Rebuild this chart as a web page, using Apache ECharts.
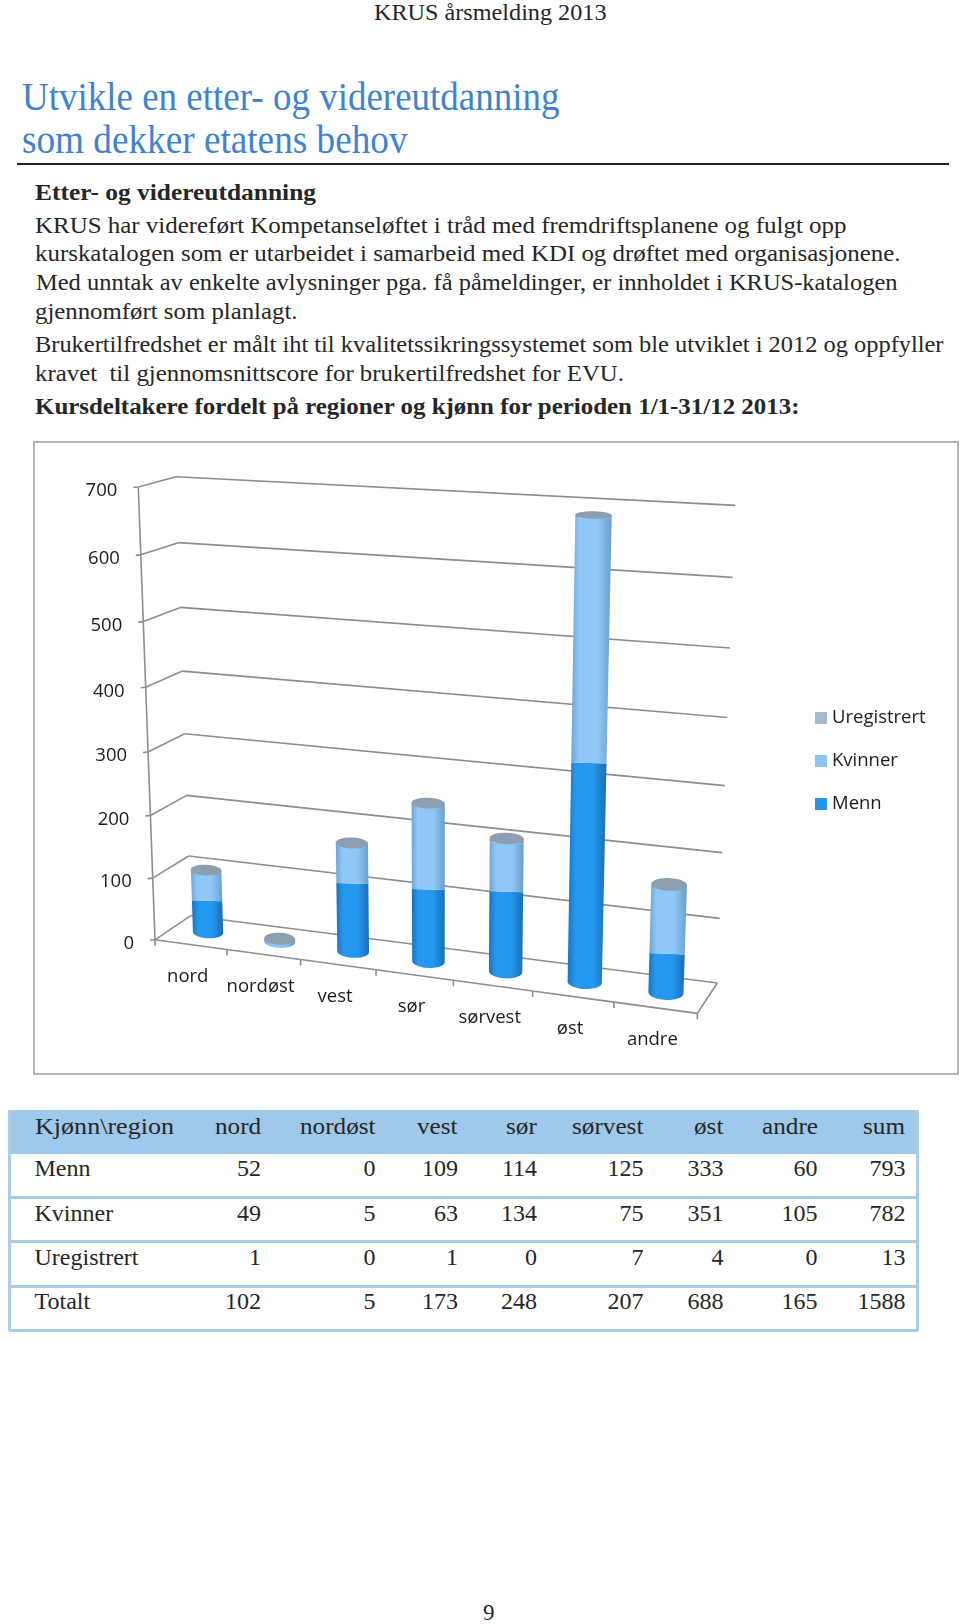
<!DOCTYPE html>
<html lang="no">
<head>
<meta charset="utf-8">
<title>KRUS årsmelding 2013</title>
<script src="https://cdn.jsdelivr.net/npm/echarts@6/dist/echarts.min.js"></script>
<style>
html,body{margin:0;padding:0;background:#fff;}
#page{position:relative;width:960px;height:1624px;overflow:hidden;background:#fff;font-family:"Liberation Serif",serif;color:#262626;}
.t{position:absolute;white-space:pre;line-height:1;transform-origin:0 0;}
#chart{position:absolute;left:34px;top:442px;width:924px;height:632px;}
#frame{position:absolute;left:33px;top:441px;width:922px;height:630px;border:2px solid #b4b4b4;}
#rule{position:absolute;left:17px;top:163px;width:932px;height:2px;background:#222;}
.band{position:absolute;left:9px;width:909px;background:#9fc9ea;}
.ln{position:absolute;left:9px;width:909px;height:2.5px;background:#a9cde8;}
.vl{position:absolute;top:1110px;height:221px;width:2.5px;background:#a9cde8;}
</style>
</head>
<body>
<div id="page">
  <div id="rule"></div>
  <div id="frame"></div>
  <div id="chart"></div>
</div>
<script>
// ---- data ----
const categories = ['nord','nordøst','vest','sør','sørvest','øst','andre'];
const menn        = [52,0,109,114,125,333,60];
const kvinner     = [49,5,63,134,75,351,105];
const uregistrert = [1,0,1,0,7,4,0];
const totalt      = [102,5,173,248,207,688,165];
const sumColumn   = [793,782,13,1588];
const yTicks      = [0,100,200,300,400,500,600,700];
const tableHeader = ['Kjønn\\region','nord','nordøst','vest','sør','sørvest','øst','andre','sum'];
const rowNames    = ['Menn','Kvinner','Uregistrert','Totalt'];

// ---- page text ----
const page = document.getElementById('page');
function addText(str, x, baseline, size, targetW, opt) {
  opt = opt || {};
  const s = document.createElement('span');
  s.className = 't';
  s.textContent = str;
  s.style.fontSize = size + 'px';
  if (opt.bold) s.style.fontWeight = 'bold';
  if (opt.color) s.style.color = opt.color;
  page.appendChild(s);
  const w = s.getBoundingClientRect().width;
  s.style.top = (baseline - size * 0.891) + 'px';
  if (opt.right) {
    const sx = opt.sx || 1;
    s.style.left = (x - w * sx) + 'px';
    if (sx !== 1) s.style.transform = 'scaleX(' + sx + ')';
  } else {
    s.style.left = x + 'px';
    if (targetW) s.style.transform = 'scaleX(' + (targetW / w) + ')';
  }
}
const blue = '#3f82d2';
addText('KRUS årsmelding 2013', 373.5, 21, 23, 232.5);
addText('Utvikle en etter- og videreutdanning', 21.5, 111.5, 39, 537.5, {color: blue});
addText('som dekker etatens behov', 21.5, 154.5, 39, 385.5, {color: blue});
addText('Etter- og videreutdanning', 34.5, 201, 24, 281, {bold: true});
addText('KRUS har videreført Kompetanseløftet i tråd med fremdriftsplanene og fulgt opp', 34.5, 234, 24, 811.5);
addText('kurskatalogen som er utarbeidet i samarbeid med KDI og drøftet med organisasjonene.', 34.5, 262.5, 24, 865.5);
addText('Med unntak av enkelte avlysninger pga. få påmeldinger, er innholdet i KRUS-katalogen', 35.5, 291.5, 24, 861.5);
addText('gjennomført som planlagt.', 34.5, 320.5, 24, 262.5);
addText('Brukertilfredshet er målt iht til kvalitetssikringssystemet som ble utviklet i 2012 og oppfyller', 34.5, 353, 24, 908.5);
addText('kravet  til gjennomsnittscore for brukertilfredshet for EVU.', 34.5, 382, 24, 589);
addText('Kursdeltakere fordelt på regioner og kjønn for perioden 1/1-31/12 2013:', 34.5, 415.5, 24, 764.5, {bold: true});
addText('9', 483, 1621, 23);

// ---- table ----
function addBox(cls, css) { const d = document.createElement('div'); d.className = cls; Object.assign(d.style, css); page.appendChild(d); }
addBox('band', {top: '1110px', height: '44px'});
[1196, 1240, 1285, 1329].forEach(y => addBox('ln', {top: y + 'px'}));
addBox('vl', {left: '8px'});
addBox('vl', {left: '916px'});
const colRight = [261, 375.5, 458, 537, 643.5, 723.5, 817.5, 905.5];
const rowBase  = [1177.5, 1222, 1266.5, 1310.5];
tableHeader.forEach((h, c) => {
  if (c === 0) addText(h, 34.5, 1135, 24, 139);
  else addText(h, colRight[c - 1], 1135, 24, null, {right: true, sx: 1.05});
});
[menn, kvinner, uregistrert, totalt].forEach((row, r) => {
  addText(rowNames[r], 34.5, rowBase[r], 24);
  row.forEach((v, c) => addText(String(v), colRight[c], rowBase[r], 24, null, {right: true}));
  addText(String(sumColumn[r]), colRight[7], rowBase[r], 24, null, {right: true});
});

// ---- perspective of the 3D chart: page positions of the box corners ----
const OX = 34, OY = 442;
const loc = p => [p[0] - OX, p[1] - OY];
const backQuad  = [[190.7,915.7],[717.3,983],[735.3,505.4],[176,476.8]].map(loc);
const frontQuad = [[155,939.8],[697.3,1013.4],[713.3,521.9],[138.3,487]].map(loc);
function homography(q) {
  const [p0,p1,p2,p3] = q;
  const dx1=p1[0]-p2[0], dx2=p3[0]-p2[0], sx=p0[0]-p1[0]+p2[0]-p3[0];
  const dy1=p1[1]-p2[1], dy2=p3[1]-p2[1], sy=p0[1]-p1[1]+p2[1]-p3[1];
  const den=dx1*dy2-dx2*dy1;
  const g=(sx*dy2-dx2*sy)/den, h=(dx1*sy-sx*dy1)/den;
  const a=p1[0]-p0[0]+g*p1[0], b=p3[0]-p0[0]+h*p3[0], c=p0[0];
  const d=p1[1]-p0[1]+g*p1[1], e=p3[1]-p0[1]+h*p3[1], f=p0[1];
  return (u,v)=>{const w=g*u+h*v+1;return [(a*u+b*v+c)/w,(d*u+e*v+f)/w];};
}
const backH = homography(backQuad), frontH = homography(frontQuad);
// u: 0..1 across, v: 0..1 up, d: 0 = front, 1 = back
function project(u, v, d) {
  const f = frontH(u, v), b = backH(u, v);
  return [f[0] + (b[0] - f[0]) * d, f[1] + (b[1] - f[1]) * d];
}
// flat pixel from the ECharts axes -> unit coordinates in the box
function unit(px, cs) { return [(px[0] - cs.x) / cs.width, (cs.y + cs.height - px[1]) / cs.height]; }

const RU = 0.0305, RD = 0.24, DC = 0.5, N = 28, TILT = 0.3;
// a level disc of the cylinder: screen ellipse at height v, almost horizontal
function disc(u, v) {
  const c = project(u, v, DC), r = project(u + RU, v, DC), l = project(u - RU, v, DC);
  const f = project(u, v, DC - RD), b = project(u, v, DC + RD);
  return {cx: c[0], cy: c[1], rx: (r[0] - l[0]) / 2, ry: Math.abs(f[1] - b[1]) / 2, t: (r[1] - l[1]) / 2 * TILT};
}
function discPt(e, th) { return [e.cx + e.rx * Math.cos(th), e.cy + e.ry * Math.sin(th) + e.t * Math.cos(th)]; }
function arcPts(u, v, from, to) {
  const e = disc(u, v), out = [];
  for (let k = 0; k <= N; k++) out.push(discPt(e, from + (to - from) * k / N));
  return out;
}
function shade(edge, mid, edge2) {
  return new echarts.graphic.LinearGradient(0, 0, 1, 0, [
    {offset: 0, color: edge}, {offset: 0.2, color: mid}, {offset: 0.65, color: mid}, {offset: 1, color: edge2}
  ]);
}
const fills = {
  Menn: () => shade('#1b72bf', '#2498ee', '#1a6fb8'),
  Kvinner: () => shade('#6ea6d6', '#8fc8f6', '#6a9fcd'),
  Uregistrert: () => shade('#7f97ad', '#a5bbce', '#7c93a8')
};
const capColor = '#8b9fb1';

function cylinder(name, withCap) {
  return function (params, api) {
    const cs = params.coordSys;
    const i = api.value(0), base = api.value(1), val = api.value(2);
    const p0 = unit(api.coord([i, base]), cs), p1 = unit(api.coord([i, base + val]), cs);
    const u = p0[0], v0 = p0[1], v1 = p1[1];
    const children = [];
    if (val > 0) {
      const e0 = disc(u, v0), e1 = disc(u, v1);
      const bottom = base === 0
        ? arcPts(u, v0, Math.PI, 0)
        : [discPt(e0, Math.PI), discPt(e0, 0)];
      const top = [discPt(e1, 0), discPt(e1, Math.PI)];
      children.push({type: 'polygon', shape: {points: bottom.concat(top)}, style: {fill: fills[name]()}});
    }
    if (withCap) {
      children.push({type: 'polygon', shape: {points: arcPts(u, v1, 0, 2 * Math.PI)}, style: {fill: capColor}});
    }
    return {type: 'group', children};
  };
}

const lineCol = '#8e8e8e', labelCol = '#1c1c1c', labelFont = '"Open Sans"';
const ln = (a, b) => ({type: 'line', shape: {x1: a[0], y1: a[1], x2: b[0], y2: b[1]}, style: {stroke: lineCol, lineWidth: 1.6}});
const lab = (text, x, y, align) => ({type: 'text', style: {text, x, y, align, verticalAlign: 'middle', fontSize: 18.5, fontFamily: labelFont, fill: labelCol}});

function renderGrid(params, api) {
  const v = unit(api.coord([0, api.value(1)]), params.coordSys)[1];
  const fl = project(0, v, 0), bl = project(0, v, 1), br = project(1, v, 1);
  const kids = [ln(fl, bl), ln(bl, br), ln([fl[0] - 5, fl[1] + 0.5], fl),
                lab(String(api.value(1)), fl[0] - 21, fl[1] + 4, 'right')];
  if (api.value(1) === yTicks[yTicks.length - 1]) kids.push(ln(fl, project(0, 0, 0)));
  return {type: 'group', children: kids};
}
function renderFloor(params, api) {
  const cs = params.coordSys;
  const i = api.value(0);
  const bw = api.size([1, 0])[0];
  const c = unit(api.coord([i, 0]), cs);
  const r = c[0] + bw / 2 / cs.width, l = c[0] - bw / 2 / cs.width;
  const a = project(l, 0, 0), b = project(r, 0, 0), mid = project(c[0], 0, 0);
  const kids = [ln(a, b), ln(b, [b[0], b[1] + 6]), lab(categories[i], mid[0] - 3, mid[1] + 32, 'center')];
  if (i === 0) kids.push(ln(a, [a[0], a[1] + 6]));
  if (i === categories.length - 1) kids.push(ln(b, project(1, 0, 1)));
  return {type: 'group', children: kids};
}

const stack = (vals, bases) => vals.map((v, i) => [i, bases ? bases[i] : 0, v]);
const b2 = menn.map((v, i) => v + kvinner[i]);

const chart = echarts.init(document.getElementById('chart'), null, {renderer: 'canvas'});
chart.setOption({
  animation: false,
  backgroundColor: 'transparent',
  grid: {left: 0, right: 0, top: 0, bottom: 0},
  xAxis: {type: 'category', data: categories, show: false},
  yAxis: {type: 'value', min: 0, max: 700, interval: 100, show: false},
  legend: {
    orient: 'vertical', left: 776, top: 258.5, itemWidth: 12, itemHeight: 12, itemGap: 18, icon: 'rect',
    data: ['Uregistrert', 'Kvinner', 'Menn'],
    textStyle: {fontFamily: labelFont, fontSize: 18.5, color: labelCol, lineHeight: 25}
  },
  series: [
    {type: 'custom', name: 'grid', silent: true, data: yTicks.map(v => [0, v]), renderItem: renderGrid, z: 1},
    {type: 'custom', name: 'floor', silent: true, data: categories.map((c, i) => [i, 0]), renderItem: renderFloor, z: 1},
    {type: 'custom', name: 'Menn', itemStyle: {color: '#2095ea'}, data: stack(menn), renderItem: cylinder('Menn', false), z: 3},
    {type: 'custom', name: 'Kvinner', itemStyle: {color: '#8cc5f2'}, data: stack(kvinner, menn), renderItem: cylinder('Kvinner', false), z: 3},
    {type: 'custom', name: 'Uregistrert', itemStyle: {color: '#a6bbce'}, data: stack(uregistrert, b2), renderItem: cylinder('Uregistrert', true), z: 3}
  ]
});
</script>
</body>
</html>
